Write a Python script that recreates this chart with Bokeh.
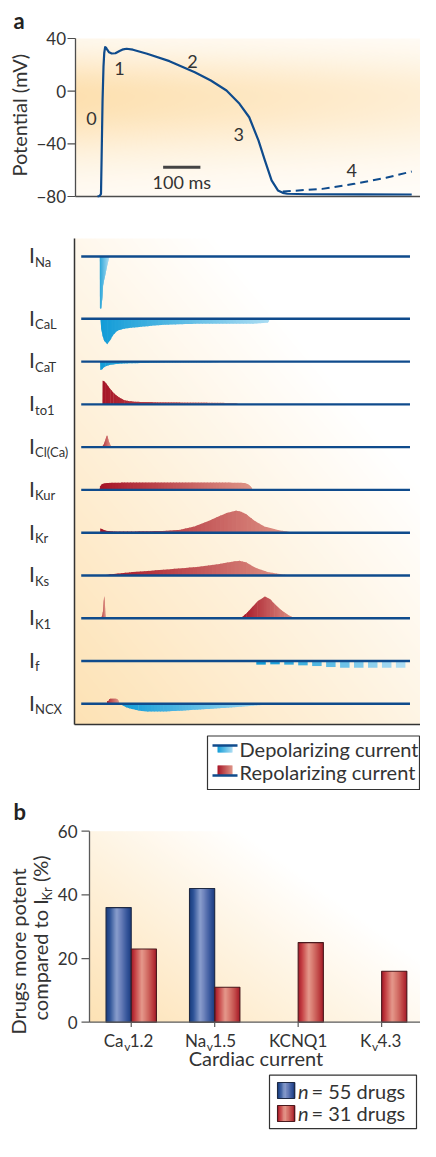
import numpy as np
from bokeh.plotting import figure
from bokeh.models import Range1d
from bokeh.layouts import column
from bokeh.embed import file_html
from bokeh.resources import INLINE
from bokeh.core.properties import value

# ------------------------------------------------------------------ data
# Panel a (top): action potential, time (ms) vs potential (mV)
ap_t = [-5, 0, 2.5, 4.3, 6, 8.5, 11, 13, 15.4, 18, 21, 26, 33, 43, 54, 64, 73, 90,
        128, 188, 256, 299, 341, 376, 402, 427, 444, 462, 479, 492, 504, 560, 700, 838]
ap_v = [-80, -79.6, -78.8, -78, -50, -7, 18.6, 29, 33.4, 33, 31.5, 29.5, 28.6, 28.8, 30.5, 31.8, 32.2, 31.5,
        28.4, 22.8, 14.4, 8.1, 0.5, -9.6, -19.8, -37.5, -52.6, -67.8, -75.4, -77.2, -77.9, -78.3, -78.4, -78.5]
ph4_t = [492, 598, 684, 769, 838]
ph4_v = [-76.2, -74.2, -70.4, -65.8, -61]
ap_ticks = [-80, -40, 0, 40]
phase_text = ["0", "1", "2", "3", "4"]
phase_t = [-21.3, 53.8, 249.5, 373.6, 676.9]
phase_v = [-21.0, 17.0, 22.5, -33.1, -60.4]
scalebar_ms = 100

# Panel a (middle): ionic currents (amplitude, + = repolarizing / outward)
current_names = ["Na", "CaL", "CaT", "to1", "Cl(Ca)", "Kur", "Kr", "Ks", "K1", "f", "NCX"]
ina_t = [1, 1.5, 5, 7, 8.5, 10, 12.5, 15.5, 21, 27]
ina_a = [0, -52, -52, -45, -39, -29, -24, -19, -9, 0]
ical_t = [2.5, 5, 8.5, 13, 21, 28, 34, 42, 51, 65, 85, 128, 171, 256, 341, 410, 452, 458]
ical_a = [0, -10, -17, -22, -25.5, -22, -18, -14, -11.5, -10, -9, -7.4, -6, -5, -5, -5, -4, 0]
icat_t = [2, 3, 7, 11, 17, 25, 34, 50, 85, 171, 299, 360]
icat_a = [0, -8.3, -8, -6, -4.7, -3.6, -3, -2.3, -1.7, -1, -0.8, 0]
ito_t = [8.5, 9, 13, 17, 22, 30, 38, 47, 57, 68, 85, 103, 150, 214, 300, 367, 375]
ito_a = [0, 23.5, 23, 21.5, 19, 15, 11.5, 8.5, 6, 4, 3, 2.5, 2.2, 2, 1.7, 1.3, 0]
iclca_t = [7, 12, 16, 19, 20.5, 22, 25, 29, 33]
iclca_a = [0, 3, 7, 10.5, 11.7, 10.5, 6, 2.5, 0]
ikur_t = [0, 2, 6, 12, 20, 60, 150, 250, 350, 390, 400, 407, 412]
ikur_a = [0, 3.5, 5.5, 6.5, 7, 7.3, 7.5, 7.5, 7.3, 7, 5.5, 3, 0]
ikr_t = [2, 3, 8, 15, 25, 40, 85, 171, 214, 256, 299, 341, 367, 380, 393, 419, 444, 479, 521]
ikr_a = [0, 4.3, 3.5, 2.3, 1.6, 1.3, 1.2, 1.8, 2.7, 6.3, 12.7, 19.7, 22, 21, 18.7, 11.3, 6, 2.7, 0]
iks_t = [8.5, 26, 85, 171, 256, 325, 360, 376, 393, 419, 453, 496, 515]
iks_a = [0, 1, 3.3, 5.7, 8.3, 11.7, 14, 14.7, 13.3, 7.7, 3.3, 0.7, 0]
ik1s_t = [4.5, 8, 10, 11.5, 13, 14.5, 16, 17.5]
ik1s_a = [0, 3, 8, 17, 22, 17, 5, 0]
ik1h_t = [380, 395, 410, 425, 444, 458, 470, 485, 496, 510, 526]
ik1h_a = [0, 5, 11, 17, 21.7, 19, 14.3, 9, 6, 2.5, 0]
if_start_ms, if_end_ms = 421, 833
if_depth = [3.6, 3.3, 3.6, 4.3, 5.0, 6.0, 6.7, 6.7, 6.7, 6.7, 6.7]
incxr_t = [20, 21, 25, 26, 29, 45, 50, 54]
incxr_a = [0, 2.7, 2.7, 4.5, 5, 5, 4, 0]
incxb_t = [55, 62, 72, 85, 105, 128, 171, 214, 256, 299, 341, 380, 410, 440, 470]
incxb_a = [0, -1.5, -3.5, -5, -6.8, -7.6, -7.7, -7, -6, -5, -4, -3, -2, -1, 0]

# Panel b: drugs more potent compared to IKr (%)
bar_main = ["Ca", "Na", "KCNQ1", "K"]
bar_sub = ["v", "v", "", "v"]
bar_tail = ["1.2", "1.5", "", "4.3"]
bar_n55 = [36, 42, np.nan, np.nan]
bar_n31 = [23, 11, 25, 16]
bar_ticks = [0, 20, 40, 60]

# ------------------------------------------------------------------ style
FONT = "Lato"
TXT = "#333333"
NAVY = "#0f4b8c"
AXIS = "#4d4d4d"
ORANGE = (253, 224, 176)
DEP0, DEP1 = (18, 156, 215), (172, 221, 243)
REP0, REP1 = (166, 20, 38), (223, 150, 136)
W = 420          # page width used
REF_W = 436      # width of the reference layout
MID = 0.34       # baseline -> "middle" offset, in em


def hexc(c):
    return "#%02x%02x%02x" % tuple(int(round(v)) for v in c)


def lerp(c0, c1, f):
    return hexc([a + (b - a) * f for a, b in zip(c0, c1)])


def bg_image(nx, ny, alpha_fn):
    u = np.linspace(0, 1, nx)[None, :]
    v = np.linspace(0, 1, ny)[:, None]
    a = np.clip(alpha_fn(u, v), 0, 1)
    img = np.empty((ny, nx), dtype=np.uint32)
    view = img.view(dtype=np.uint8).reshape((ny, nx, 4))
    view[..., 0] = ORANGE[0]
    view[..., 1] = ORANGE[1]
    view[..., 2] = ORANGE[2]
    view[..., 3] = (a * 255).astype(np.uint8)
    return img


def gradient_area(t, a, base, c0, c1, nseg=50, overlap=1.5):
    t = np.asarray(t, float)
    a = np.asarray(a, float)
    t0, t1 = t[0], t[-1]
    xs_all = np.union1d(np.linspace(t0, t1, nseg + 1), t)
    ys_all = np.interp(xs_all, t, a)
    xs, ys, cs = [], [], []
    n = len(xs_all) - 1
    for i in range(n):
        xa, xb = xs_all[i], xs_all[i + 1]
        if xb - xa <= 1e-9:
            continue
        ya, yb = ys_all[i], ys_all[i + 1]
        if i < n - 1:
            xc = min(xb + overlap, xs_all[i + 2])
            yc = np.interp(xc, t, a)
            xs.append([xa, xa, xb, xc, xc])
            ys.append([base, base + ya, base + yb, base + yc, base])
        else:
            xs.append([xa, xa, xb, xb])
            ys.append([base, base + ya, base + yb, base])
        cs.append(lerp(c0, c1, ((xa + xb) / 2 - t0) / (t1 - t0)))
    return xs, ys, cs


def base_fig(height, xr, yr):
    p = figure(width=W, height=height, x_range=xr, y_range=yr, min_border=0,
               x_axis_type=None, y_axis_type=None,
               output_backend="svg", toolbar_location=None)
    p.grid.visible = False
    p.outline_line_color = None
    p.background_fill_color = "white"
    p.border_fill_color = "white"
    return p


def txt(p, x, y, text, size, **kw):
    opts = dict(text_font=value(FONT), text_font_size=size, text_color=TXT,
                text_align="left", text_baseline="middle")
    opts.update(kw)
    xs = list(x) if isinstance(x, (list, tuple, np.ndarray)) else [x]
    ys = list(y) if isinstance(y, (list, tuple, np.ndarray)) else [y]
    ts = list(text) if isinstance(text, (list, tuple)) else [text]
    p.text(x=xs, y=ys, text=ts, **opts)


def btxt(p, x, base_py, Yf, text, size_px, **kw):
    """text placed by its baseline (reference page y), drawn with a middle anchor"""
    txt(p, x, Yf(base_py - MID * size_px), text, "%dpx" % size_px, **kw)


def warp(px, left):
    """reference page x -> our page x (plot area squeezed to fit 420 px)"""
    if px <= left:
        return px
    return left + (px - left) * (W - left) / (REF_W - left)


# ------------------------------------------------------------------ figure 1: action potential
AXL1 = 75.0
T_LEFT = (AXL1 - 100.0) / 0.39                  # time at the y axis
T_RIGHT = (REF_W - 100.0) / 0.39                # time at the right edge
PXMS = (W - AXL1) / (T_RIGHT - T_LEFT)          # px per ms on our page
def X1(px_ref):
    return T_LEFT + (warp(px_ref, AXL1) - AXL1) / PXMS
def Y1(py):
    return 40 - (py - 38) * 120 / 158

p1 = base_fig(228, Range1d(X1(0), T_RIGHT), Range1d(Y1(228), Y1(0)))
p1.image_rgba(image=[bg_image(345, 158, lambda u, v: (0.12 + 0.88 * np.exp(
    -((v * 120 - 80 + 4) / np.where(v * 120 - 80 > -4, 32, 44)) ** 2)) * (1 - 0.45 * u))],
    x=T_LEFT, y=-80, dw=T_RIGHT - T_LEFT, dh=120)
p1.segment(x0=[T_LEFT, T_LEFT], x1=[T_LEFT, T_RIGHT], y0=[min(ap_ticks), min(ap_ticks)],
           y1=[max(ap_ticks), min(ap_ticks)], line_color=AXIS, line_width=1.3)
p1.segment(x0=X1(67), x1=T_LEFT, y0=ap_ticks, y1=ap_ticks, line_color=AXIS, line_width=1.2)
txt(p1, [X1(65.5)] * len(ap_ticks), ap_ticks,
    [("\u2212%d" % -k if k < 0 else "%d" % k) for k in ap_ticks], "17px", text_align="right")
p1.line(ph4_t, ph4_v, line_color=NAVY, line_width=2, line_dash="8 5")
p1.line(ap_t, ap_v, line_color=NAVY, line_width=2.2, line_join="round")
txt(p1, phase_t, phase_v, phase_text, "18px", text_align="center")
sb_t0, sb_v = 171, -57.7
p1.line([sb_t0, sb_t0 + scalebar_ms], [sb_v, sb_v], line_color="#444444", line_width=3)
txt(p1, sb_t0 + scalebar_ms / 2, Y1(181.5), "%d ms" % scalebar_ms, "18px", text_align="center")
btxt(p1, X1(13), 27, Y1, "a", 22, text_font_style="bold", text_color="#222222")
txt(p1, X1(18), Y1(114.7), "Potential (mV)", "20px", angle=np.pi / 2, text_align="center")

# ------------------------------------------------------------------ figure 2: currents
def Y2(py):
    return 724.0 - py

p2 = base_fig(502, Range1d(X1(0), T_RIGHT), Range1d(Y2(730), Y2(228)))
p2.image_rgba(image=[bg_image(346, 486, lambda u, v: 0.95 - 0.6 * u - 0.7 * v)],
              x=X1(74), y=0, dw=T_RIGHT - X1(74), dh=486)
p2.segment(x0=[X1(74), X1(74)], x1=[X1(74), T_RIGHT], y0=[Y2(724), Y2(724)], y1=[Y2(238), Y2(724)],
           line_color="#333333", line_width=1.5)

row_page_y = [256.0] + [318.3 + 42.78 * k for k in range(10)]
row_y = [Y2(py) for py in row_page_y]

areas = [
    (ina_t, ina_a, 0, DEP0, DEP1), (ical_t, ical_a, 1, DEP0, DEP1), (icat_t, icat_a, 2, DEP0, DEP1),
    (ito_t, ito_a, 3, REP0, REP1), (iclca_t, iclca_a, 4, REP0, REP1), (ikur_t, ikur_a, 5, REP0, REP1),
    (ikr_t, ikr_a, 6, REP0, REP1), (iks_t, iks_a, 7, REP0, REP1), (ik1s_t, ik1s_a, 8, REP0, REP1),
    (ik1h_t, ik1h_a, 8, REP0, REP1), (incxr_t, incxr_a, 10, REP0, REP1), (incxb_t, incxb_a, 10, DEP0, DEP1),
]
AX, AY, AC = [], [], []
for t, a, r, c0, c1 in areas:
    span = t[-1] - t[0]
    xs, ys, cs = gradient_area(t, a, row_y[r], c0, c1, overlap=min(2.0, span / 60))
    AX += xs; AY += ys; AC += cs
p2.patches(xs=AX, ys=AY, fill_color=AC, line_color=None)

# I_f : dashed (stepped) inward current
n_if = len(if_depth)
period = (if_end_ms - if_start_ms) / n_if
left = if_start_ms + period * np.arange(n_if)
right = left + period * 0.68
p2.quad(left=left, right=right, top=row_y[9], bottom=[row_y[9] - d for d in if_depth],
        fill_color=[lerp(DEP0, DEP1, k / (n_if - 1)) for k in range(n_if)], line_color=None)

p2.segment(x0=[X1(81)] * 11, x1=[X1(425)] * 11, y0=row_y, y1=row_y, line_color=NAVY, line_width=2.4)

for name, py in zip(current_names, row_page_y):
    btxt(p2, X1(28.5), py + 5.5, Y2, "I", 21)
    btxt(p2, X1(34.5), py + 9.7, Y2, name, 13)

# ------------------------------------------------------------------ figure 3: legend of currents
S3 = 16  # shift left so the legend fits
def Y3(py):
    return py
p3 = base_fig(60, Range1d(0, W), Range1d(794, 734))
p3.quad(left=[223 - S3], right=[435 - S3], top=[739.5], bottom=[793.2], fill_color="white",
        line_color="#333333", line_width=1.2)
for (c0, c1), ybase, amp in (((DEP0, DEP1), 749, 7), ((REP0, REP1), 779, -10)):
    xs, ys, cs = gradient_area([233 - S3, 248 - S3], [amp, amp], ybase, c0, c1, nseg=15, overlap=0.6)
    p3.patches(xs=xs, ys=ys, fill_color=cs, line_color=None)
    p3.line([228 - S3, 253 - S3], [ybase, ybase], line_color=NAVY, line_width=2.4)
btxt(p3, 255 - S3, 759.3, Y3, "Depolarizing current", 20)
btxt(p3, 255 - S3, 782.3, Y3, "Repolarizing current", 20)

# ------------------------------------------------------------------ figure 4: bar chart
AXL4 = 89.0
UNIT = 87.5 * (W - AXL4) / (REF_W - AXL4)
def X4(px_ref):
    return 0.5 + (warp(px_ref, AXL4) - AXL4) / UNIT
def Y4(py):
    return (1036.7 - py) * 60 / 191

XR4 = X4(REF_W)
p4 = base_fig(280, Range1d(X4(0), XR4), Range1d(Y4(1085), Y4(805)))
p4.image_rgba(image=[bg_image(331, 191, lambda u, v: 0.95 - 0.75 * u - 0.6 * v)],
              x=0.5, y=0, dw=XR4 - 0.5, dh=60)

BLUE_ST = [(0, (26, 60, 124)), (0.15, (45, 82, 150)), (0.42, (138, 158, 205)),
           (0.6, (104, 126, 185)), (0.85, (50, 82, 152)), (1, (28, 60, 126))]
RED_ST = [(0, (160, 22, 38)), (0.15, (196, 62, 66)), (0.42, (229, 153, 140)),
          (0.6, (214, 118, 108)), (0.85, (188, 62, 64)), (1, (162, 26, 40))]
def prof(stops, f):
    pos = [s[0] for s in stops]
    return hexc([np.interp(f, pos, [s[1][k] for s in stops]) for k in range(3)])

BW = 0.302
NSTRIP = 26
sx, sw, st, sc = [], [], [], []
ox, ot, olc = [], [], []
for vals, off, stops, edge in ((bar_n55, -BW, BLUE_ST, "#1f2a44"), (bar_n31, 0.0, RED_ST, "#4a1a1e")):
    for g, val in enumerate(vals):
        if np.isnan(val):
            continue
        c = g + 1
        for k in range(NSTRIP):
            f = (k + 0.5) / NSTRIP
            last = k == NSTRIP - 1
            wk = BW / NSTRIP * (1.0 if last else 1.8)
            sx.append(c + off + k * BW / NSTRIP + wk / 2)
            sw.append(wk)
            st.append(val)
            sc.append(prof(stops, f))
        ox.append(c + off + BW / 2)
        ot.append(val)
        olc.append(edge)
p4.vbar(x=sx, width=sw, top=st, bottom=0, fill_color=sc, line_color=None)
p4.vbar(x=ox, width=BW, top=ot, bottom=0, fill_color=None, line_color=olc, line_width=1.1)

centers = [g + 1 for g in range(len(bar_main))]
p4.segment(x0=[0.5, 0.5], x1=[0.5, XR4], y0=[0, 0], y1=[max(bar_ticks), 0],
           line_color="#5a5a5a", line_width=1.3)
p4.segment(x0=X4(81), x1=0.5, y0=bar_ticks, y1=bar_ticks, line_color="#5a5a5a", line_width=1.2)
p4.segment(x0=centers, x1=centers, y0=0, y1=Y4(1041.5), line_color="#5a5a5a", line_width=1.2)
txt(p4, [X4(77)] * len(bar_ticks), bar_ticks, [str(v) for v in bar_ticks], "17px",
    text_align="right")

anchor_off = [-7.7, -8.5, 0.0, -10.3]
for g, c in enumerate(centers):
    if bar_sub[g]:
        a = c + anchor_off[g] / UNIT
        btxt(p4, a, 1060.7, Y4, bar_main[g], 17, text_align="right")
        btxt(p4, a + 0.6 / UNIT, 1064.8, Y4, bar_sub[g], 12)
        btxt(p4, a + 6.2 / UNIT, 1060.7, Y4, bar_tail[g], 17)
    else:
        btxt(p4, c, 1060.7, Y4, bar_main[g], 17, text_align="center")
btxt(p4, X4(263.5), 1079.3, Y4, "Cardiac current", 20, text_align="center")
btxt(p4, X4(13), 833, Y4, "b", 22, text_font_style="bold", text_color="#222222")
txt(p4, X4(17.5), Y4(966), "Drugs more potent", "20px", angle=np.pi / 2, text_align="center")
y_start = 1035.0
w1, w2, wsp = 120.0, 13.5, 5.0
txt(p4, X4(39.5), Y4(y_start), "compared to I", "20px", angle=np.pi / 2)
txt(p4, X4(46.0), Y4(y_start - w1), "Kr", "13px", angle=np.pi / 2)
txt(p4, X4(39.5), Y4(y_start - w1 - w2 - wsp), "(%)", "20px", angle=np.pi / 2)

# ------------------------------------------------------------------ figure 5: bar legend
S5 = 14
def Y5(py):
    return py
p5 = base_fig(71, Range1d(0, W), Range1d(1169, 1098))
p5.quad(left=[283 - S5], right=[430 - S5], top=[1102.7], bottom=[1156.2], fill_color="white",
        line_color="#333333", line_width=1.2)
for stops, edge, ytop, ybase, label in ((BLUE_ST, "#1f2a44", 1110, 1125, "= 55 drugs"),
                                        (RED_ST, "#4a1a1e", 1133, 1147.3, "= 31 drugs")):
    n = 12
    lefts = 291 - S5 + 17 * np.arange(n) / n
    p5.quad(left=lefts, right=lefts + 17 / n * 1.6, top=ytop, bottom=ytop + 16,
            fill_color=[prof(stops, (k + 0.5) / n) for k in range(n)], line_color=None)
    p5.quad(left=[291 - S5], right=[308 - S5], top=[ytop], bottom=[ytop + 16], fill_color=None,
            line_color=edge, line_width=1.1)
    btxt(p5, 311.5 - S5, ybase, Y5, "n", 20, text_font_style="italic")
    btxt(p5, 325 - S5, ybase, Y5, label, 20)

layout = column(p1, p2, p3, p4, p5, spacing=0)
open("out.html", "w").write(file_html(layout, INLINE))
